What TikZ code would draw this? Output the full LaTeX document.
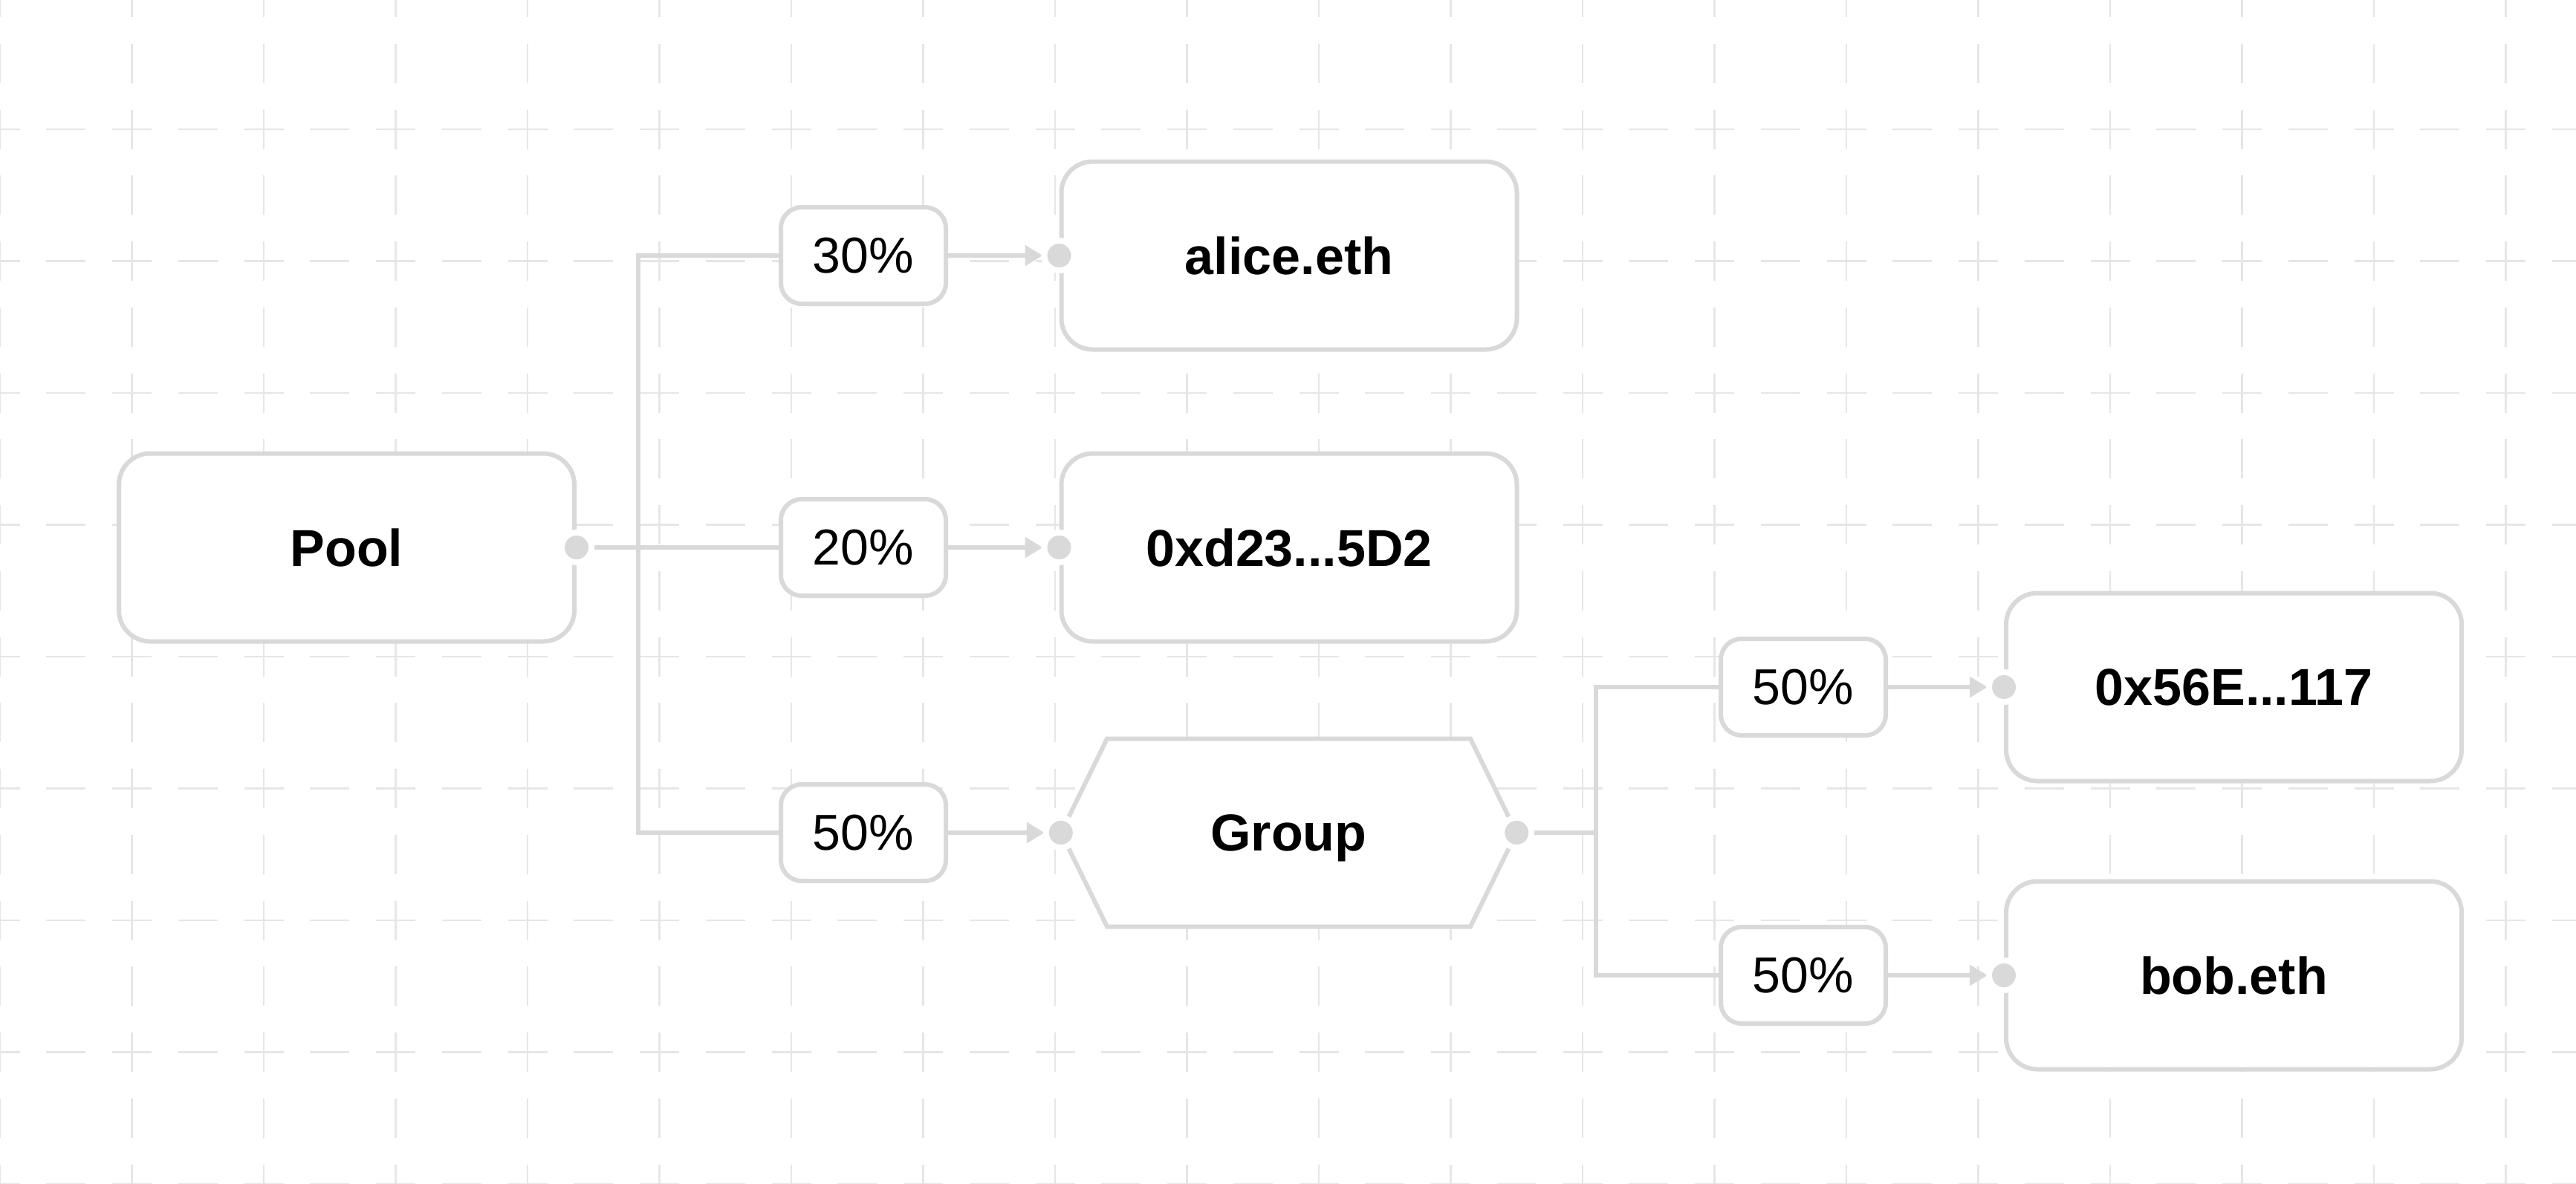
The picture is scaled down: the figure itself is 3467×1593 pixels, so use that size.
\documentclass[tikz,border=0pt]{standalone}
\usepackage{fontspec}
\setmainfont{Liberation Sans}
\usetikzlibrary{arrows.meta}
\definecolor{edgec}{RGB}{217,217,217}
\definecolor{gridc}{RGB}{230,230,230}
\pgfdeclarelayer{gridlayer}
\pgfdeclarelayer{connlayer}
\pgfsetlayers{gridlayer,connlayer,main}
\begin{document}
\begin{tikzpicture}[x=1pt,y=-1pt,
  bigbox/.style={draw=edgec, line width=6pt, fill=white, rounded corners=42pt,
    minimum width=613pt, minimum height=253pt, inner sep=0pt, text depth=0pt,
    font=\fontsize{70}{76}\selectfont\bfseries},
  hexlabel/.style={inner sep=0pt, minimum width=613pt, minimum height=253pt, text depth=0pt,
    font=\fontsize{70}{76}\selectfont\bfseries},
  hexbox/.style={draw=edgec, line width=6pt, fill=white, line join=miter},
  pctbox/.style={draw=edgec, line width=6pt, fill=white, rounded corners=28pt,
    minimum width=222pt, minimum height=130pt, inner sep=0pt, text depth=0pt,
    font=\fontsize{68}{74}\selectfont},
  conn/.style={draw=edgec, line width=6pt},
  arr/.style={conn, -{Triangle[length=24pt,width=27pt]}, shorten >=22pt},
  gridline/.style={draw=gridc, line width=2.5pt, dash pattern=on 53pt off 35.75pt},
]
\useasboundingbox (0,0) rectangle (3467,1593);

% background and grid
\begin{pgfonlayer}{gridlayer}
\fill[white] (0,0) rectangle (3467,1593);
\begin{scope}
\clip (0,0) rectangle (3467,1593);
\foreach \i in {0,...,19} \draw[gridline] (177.5*\i,-118.75) -- (177.5*\i,1700);
\foreach \j in {-1,...,8} \draw[gridline] (-26.5,174+177.5*\j) -- (3500,174+177.5*\j);
\end{scope}
\end{pgfonlayer}

% nodes
\node[bigbox] (pool) at (466.5,737) {Pool};
\node[bigbox] (alice) at (1735,344) {alice.eth};
\node[bigbox] (xd23) at (1735,737) {0xd23...5D2};
\draw[hexbox] (1428,1121) -- (1490,994.5) -- (1979,994.5) -- (2041,1121)
  -- (1979,1247.5) -- (1490,1247.5) -- cycle;
\node[hexlabel] (group) at (1734.5,1121) {Group};
\node[bigbox] (x56e) at (3006.5,925) {0x56E...117};
\node[bigbox] (bob) at (3006.5,1313) {bob.eth};

\node[pctbox] (p30) at (1162,344) {30\%};
\node[pctbox] (p20) at (1162,737) {20\%};
\node[pctbox] (p50) at (1162,1121) {50\%};
\node[pctbox] (p50a) at (2427,925) {50\%};
\node[pctbox] (p50b) at (2427,1313) {50\%};

\coordinate (j1) at (858.5,737);
\coordinate (j2) at (2147.5,1121);

% connectors
\begin{pgfonlayer}{connlayer}
\draw[conn] (pool.east) -- (p20.west);
\draw[conn, line join=miter] (p30.west) -| (j1) |- (p50.west);
\draw[conn] (group.east) -- (j2);
\draw[conn, line join=miter] (p50a.west) -| (j2) |- (p50b.west);
\draw[arr] (p30.east) -- (alice.west);
\draw[arr] (p20.east) -- (xd23.west);
\draw[arr] (p50.east) -- (group.west);
\draw[arr] (p50a.east) -- (x56e.west);
\draw[arr] (p50b.east) -- (bob.west);
\end{pgfonlayer}

% port dots
\foreach \p in {pool.east,alice.west,xd23.west,group.west,group.east,x56e.west,bob.west} {
  \fill[white] (\p) circle (24pt);
  \fill[edgec] (\p) circle (16pt);
}
\end{tikzpicture}
\end{document}
